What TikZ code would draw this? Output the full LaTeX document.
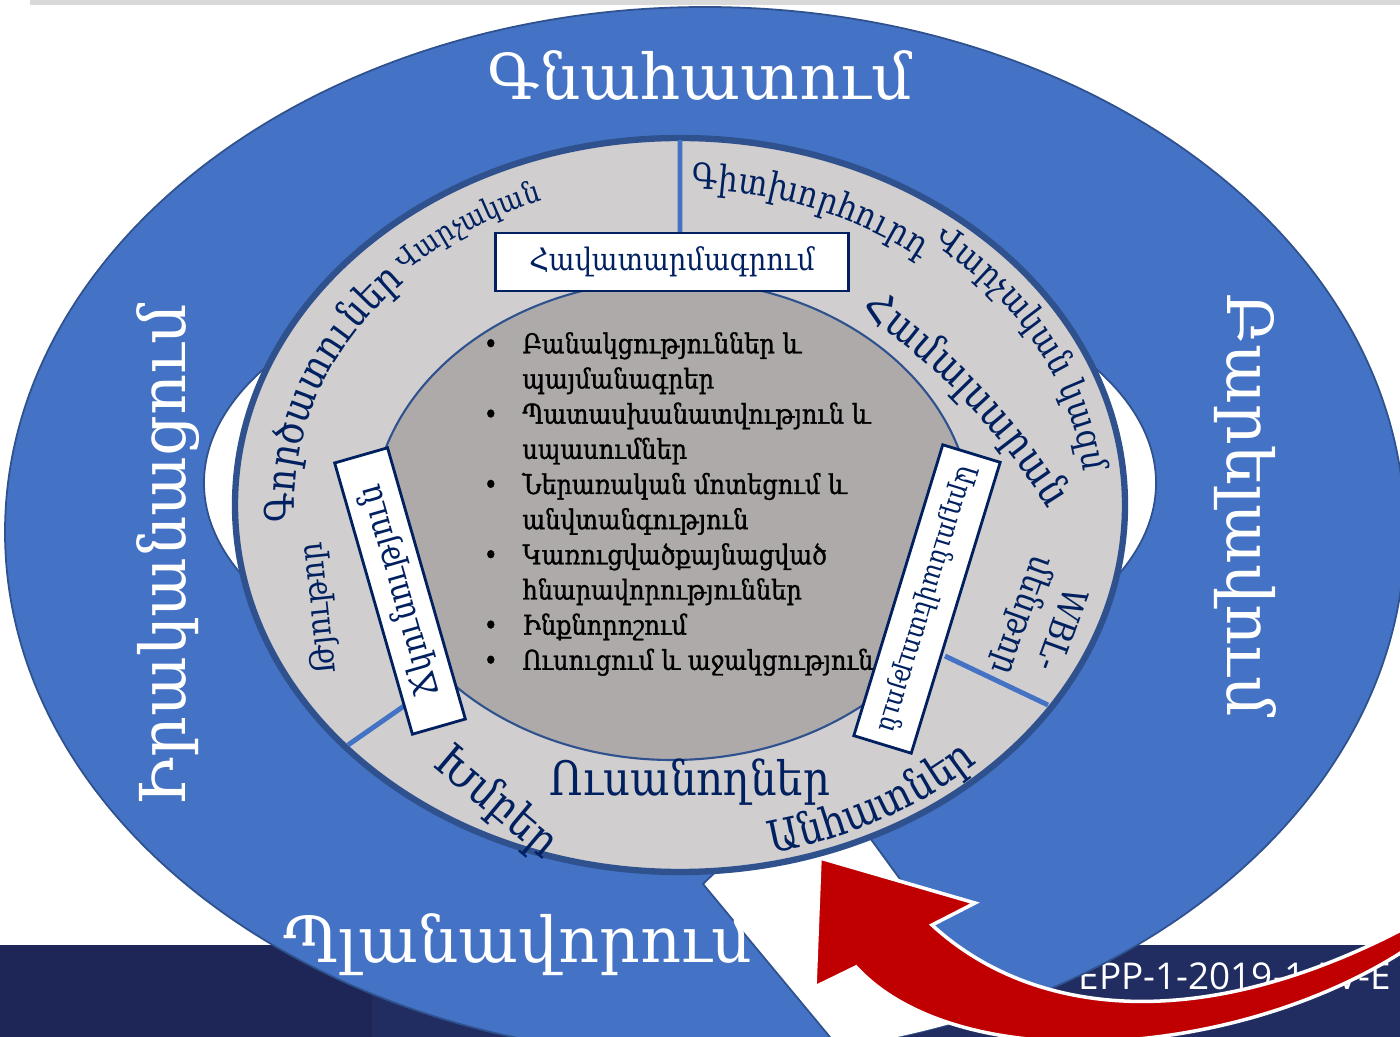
\documentclass[tikz,border=0pt]{standalone}
\usepackage{fontspec}
\setmainfont{DejaVu Serif}[FakeStretch=0.88]
\newfontfamily\wideface{DejaVu Serif}
\newfontfamily\listfont{DejaVu Serif}[FakeStretch=0.88,FakeBold=1.2]
\newfontfamily\eppfont{Open Sans}
\usetikzlibrary{decorations.text}
\definecolor{ringblue}{HTML}{4472C4}
\definecolor{ringedge}{HTML}{2F528F}
\definecolor{ringgray}{HTML}{D0CECE}
\definecolor{coregray}{HTML}{AEAAAA}
\definecolor{navytext}{HTML}{002060}
\definecolor{bandnavy}{HTML}{212C61}
\definecolor{bandleft}{HTML}{1D2656}
\definecolor{arrowred}{HTML}{C00000}

\begin{document}
\begin{tikzpicture}[
      x=0.01cm,y=-0.01cm,
      bigword/.style={text=white,inner sep=0pt,font=\wideface\fontsize{18}{18}\selectfont},
      tagbox/.style={draw=navytext,line width=0.8pt,fill=white,text=navytext,inner sep=0pt},
      ringword/.style={text=navytext,inner sep=0pt},
      ringtext/.style 2 args={decorate,decoration={text along path,text align=center,
        text={|\fontsize{#1}{#1}\selectfont\color{navytext}|#2}}}
    ]
    \useasboundingbox (0,0) rectangle (1400,1037);
    \fill[black!15] (30,0) rectangle (1400,5);
    \fill[bandnavy] (0,945) rectangle (1400,1037);
    \fill[bandleft] (0,945) rectangle (372,1037);
    \begin{scope}
      \clip (0,0) rectangle (1400,1037);
      \node[text=white,inner sep=0pt,anchor=west,font=\eppfont\fontsize{10.5}{10.5}\selectfont] (epp) at (1078,976) {EPP-1-2019-1-LV-E};
    \end{scope}

    \fill[ringblue,draw=ringedge,line width=0.5pt,even odd rule]
      (705,532) ellipse [x radius=700,y radius=525]
      (680,483) ellipse [x radius=476,y radius=235];
    \begin{scope}
      \clip (705,532) ellipse [x radius=700,y radius=525];
      \fill[white] (703,884) -- (790,800) -- (870,838) -- (1032,1060) -- (849,1060) -- cycle;
      \draw[ringedge,line width=0.5pt] (790,800) -- (703,884) -- (849,1060) (870,838) -- (1032,1060);
    \end{scope}

    \filldraw[fill=arrowred,draw=white,line width=1pt]
      (820,858) -- (975,903) -- (932,925)
      .. controls (1030,1015) and (1200,1040) .. (1420,920) -- (1420,940)
      .. controls (1250,1060) and (960,1080) .. (856,967) -- (815,987) -- cycle;

    \filldraw[fill=ringgray,draw=ringedge,line width=1.8pt] (680,505) ellipse [x radius=445,y radius=367];
    \filldraw[fill=coregray,draw=ringedge,line width=0.6pt] (672,520) ellipse [x radius=300,y radius=240];
    \draw[ringblue,line width=1.4pt] (680,140) -- (680,233) (348,745) -- (404,706) (945,656) -- (1048,705);

    \node[tagbox,minimum width=3.53cm,minimum height=0.58cm,font=\fontsize{8.8}{8.8}\selectfont] (hav) at (672,262) {Հավատարմագրում};
    \node[tagbox,minimum width=2.82cm,minimum height=0.55cm,rotate=106,font=\fontsize{9.8}{9.8}\selectfont] (chk) at (400,591) {Ճկունություն};
    \node[tagbox,minimum width=3.04cm,minimum height=0.6cm,rotate=-107,font=\fontsize{7.9}{7.9}\selectfont] (ard) at (927,599) {Արդյունավետություն};

    \path[ringtext={11.6}{Գործատուներ}] (680,505) ++(165:386 and 318) arc[start angle=165,end angle=235,x radius=386,y radius=318];
    \path[ringtext={8.5}{Վարչական}] (680,505) ++(212:394 and 325) arc[start angle=212,end angle=262,x radius=394,y radius=325];
    \path[ringtext={10.1}{Գիտխորհուրդ}] (680,505) ++(258:383 and 316) arc[start angle=258,end angle=324,x radius=383,y radius=316];
    \path[ringtext={10}{Վարչական կազմ}] (680,505) ++(295:405 and 334) arc[start angle=295,end angle=370,x radius=405,y radius=334];
    \path[ringtext={12}{Համալսարան}] (488,853) ++(-68:657) arc[start angle=-68,end angle=-19,radius=657];
    \path[ringtext={13}{Խմբեր}] (388,729) -- (588,897);
    \path[ringtext={12.5}{Անհատներ}] (680,505) ++(95:431 and 356) arc[start angle=95,end angle=27,x radius=431,y radius=356];

    \node[ringword,font=\fontsize{13.5}{13.5}\selectfont] (usan) at (690,782) {Ուսանողներ};
    \node[ringword,font=\fontsize{9.5}{9.5}\selectfont,rotate=96] (tyut) at (320,608) {Թյութոր};
    \node[ringword,font=\fontsize{10}{11.5}\selectfont,rotate=-110,align=center] (wbl) at (1040,622) {WBL-\\մենթոր};

    \node[anchor=north west,inner sep=0pt,font=\listfont\fontsize{7.75}{10}\selectfont] (core) at (483,328) {%
      \begin{tabular}{@{}l@{\hspace{7pt}}l@{}}
        \textbullet & Բանակցություններ և\\
         & պայմանագրեր\\
        \textbullet & Պատասխանատվություն և\\
         & սպասումներ\\
        \textbullet & Ներառական մոտեցում և\\
         & անվտանգություն\\
        \textbullet & Կառուցվածքայնացված\\
         & հնարավորություններ\\
        \textbullet & Ինքնորոշում\\
        \textbullet & Ուսուցում և աջակցություն
      \end{tabular}};

    \node[bigword] (gnah) at (700,75) {Գնահատում};
    \node[bigword] (plan) at (518,945) {Պլանավորում};
    \node[bigword,rotate=90] (irak) at (168,555) {Իրականացում};
    \node[bigword,rotate=-90] (barel) at (1245,505) {Բարելավում};
  \end{tikzpicture}
\end{document}
